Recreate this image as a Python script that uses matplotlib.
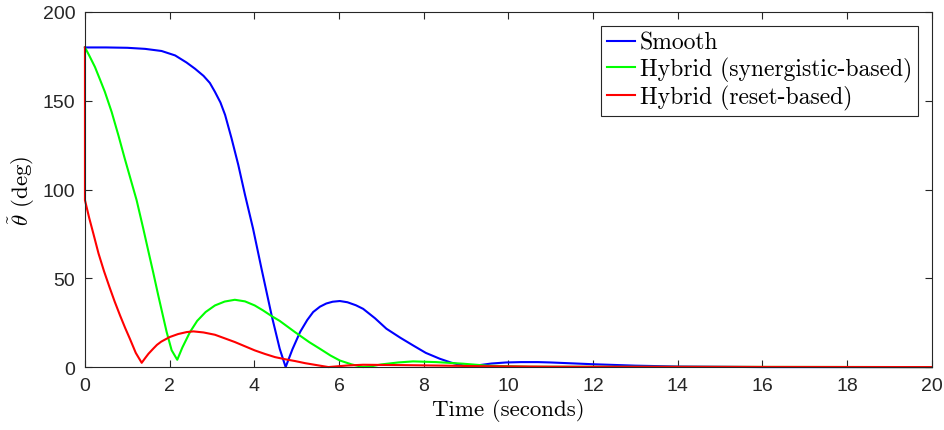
"""Angle error response: smooth vs hybrid controllers."""
import matplotlib
matplotlib.use("Agg")
import matplotlib.pyplot as plt

# --- data ---
t_smooth = [0, 0.5, 1.0, 1.42, 1.81, 2.13, 2.4, 2.6, 2.8, 2.95, 3.07, 3.2, 3.31,
            3.46, 3.62, 3.78, 3.97, 4.17, 4.41, 4.6, 4.74, 4.9, 5.08,
            5.25, 5.39, 5.55, 5.7, 5.85, 6.02, 6.2, 6.4, 6.57, 6.85, 7.12, 7.45,
            7.75, 8.05, 8.38, 8.65, 8.93, 9.1, 9.35, 9.6, 9.95, 10.3, 10.7,
            11.0, 11.5, 12.0, 13.0, 14.0, 16.0, 20.0]
v_smooth = [180, 180, 179.8, 179.2, 178, 175.5, 171.5, 168, 164, 160, 155, 149, 142,
            129, 114, 97, 78, 55.4, 29, 10.3, 0, 10, 19.7,
            26.5, 31, 34, 35.8, 36.8, 37.2, 36.5, 34.8, 32.8, 27.5, 21.6, 16.5,
            12.2, 8, 4.7, 2.5, 0.9, 0.5, 1.2, 2, 2.6, 2.8, 2.8,
            2.6, 2.1, 1.6, 0.8, 0.3, 0, 0]

t_syn = [0, 0.1, 0.236, 0.354, 0.47, 0.63, 0.79, 0.94, 1.1, 1.22, 1.377, 1.5,
         1.61, 1.73, 1.85, 1.93, 2.047, 2.18, 2.3, 2.48, 2.65, 2.85, 3.07,
         3.3, 3.54, 3.78, 4.01, 4.2, 4.41, 4.6, 4.8, 4.96, 5.3, 5.55, 5.8,
         6.02, 6.3, 6.57, 6.8, 7.0, 7.4, 7.75, 8.3, 8.93, 9.5, 10.5, 20.0]
v_syn = [180, 175.5, 169, 162, 155, 143.7, 130.5, 117.4, 104, 94, 78, 65,
         53.5, 40.5, 28, 19.7, 9.5, 4.1, 11, 19.7, 26, 31, 34.7,
         36.9, 37.9, 37, 34.7, 32, 28.7, 26, 22.5, 19.7, 14, 10.3, 6.5,
         3.7, 1.5, 0, 0.6, 1.5, 2.6, 3.2, 2.8, 1.9, 0.8, 0.2, 0]

t_reset = [0, 0, 0.1, 0.2, 0.32, 0.45, 0.58, 0.7, 0.83, 0.95, 1.06, 1.2, 1.34,
           1.42, 1.5, 1.61, 1.7, 1.8, 2.0, 2.2, 2.4, 2.56, 2.8, 3.07,
           3.3, 3.54, 3.78, 4.01, 4.25, 4.49, 4.75, 4.96, 5.2, 5.4, 5.6, 5.75,
           6.0, 6.2, 6.57, 7.5, 8.5, 9.33, 11.0, 20.0]
v_reset = [180, 94, 84, 75, 64, 54, 45, 37, 29, 22, 16, 8, 2.4,
           5, 7.5, 10.3, 12.5, 14.3, 16.9, 18.6, 19.7, 20.1, 19.5, 18.2,
           16.2, 14.1, 11.7, 9.4, 7.4, 5.6, 4.3, 3.4, 2.2, 1.4, 0.6, 0,
           0.5, 0.9, 1.3, 1.1, 0.8, 0.5, 0.2, 0]

labels = ["Smooth", "Hybrid (synergistic-based)", "Hybrid (reset-based)"]
colors = ["#0000ff", "#00ff00", "#ff0000"]

plt.rcParams["mathtext.fontset"] = "cm"
plt.rcParams["font.family"] = ["Liberation Sans", "DejaVu Sans"]

fig = plt.figure(figsize=(9.44, 4.31), dpi=100)
ax = fig.add_axes([0.090, 0.146, 0.897, 0.824])

series = [(t_smooth, v_smooth), (t_syn, v_syn), (t_reset, v_reset)]
for (t, v), lab, col in zip(series, labels, colors):
    ax.plot(t, v, color=col, lw=1.5, label=lab, clip_on=False,
            solid_joinstyle="round")

ax.set_xlim(0, 20)
ax.set_ylim(0, 200)
ax.set_xticks(range(0, 21, 2))
ax.set_yticks(range(0, 201, 50))
ax.tick_params(direction="in", top=True, right=True, length=5, width=0.8,
               labelsize=14, colors="#262626", pad=7)
for s in ax.spines.values():
    s.set_color("#262626")
    s.set_linewidth(0.8)

ax.set_xlabel("Time (seconds)", family="cmr10", fontsize=16.5, labelpad=3)
ax.set_ylabel(r"$\tilde{\theta}$ (deg)", family="cmr10", fontsize=16.5, labelpad=4)

leg = ax.legend(loc="upper right", bbox_to_anchor=(0.9835, 0.9606),
                borderaxespad=0, prop={"family": "cmr10", "size": 17},
                handlelength=1.2, handletextpad=0.2, borderpad=0.25,
                labelspacing=0.12, fancybox=False, edgecolor="#262626",
                framealpha=1)
leg.get_frame().set_linewidth(0.8)

fig.savefig("out.png", dpi=100)
